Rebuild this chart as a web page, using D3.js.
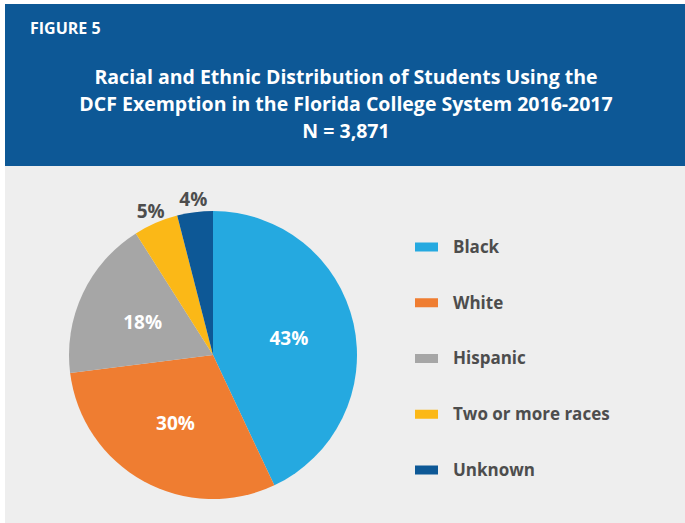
<!DOCTYPE html>
<html>
<head>
<meta charset="utf-8">
<script src="https://cdn.jsdelivr.net/npm/d3@7"></script>
<style>
  body { margin: 0; background: #fff; }
  text { font-family: "Open Sans", Lato, sans-serif; }
</style>
</head>
<body>
<div id="chart"></div>
<script>
// data
const categories = ["Black", "White", "Hispanic", "Two or more races", "Unknown"];
const shares = [43, 30, 18, 5, 4];
const colors = ["#25a9e0", "#ef7d31", "#a6a6a6", "#fbb817", "#0d5896"];
const titleLines = [
    "Racial and Ethnic Distribution of Students Using the",
    "DCF Exemption in the Florida College System 2016-2017",
    "N = 3,871"
];

const W = 685, H = 523;

const svg = d3.select("#chart").append("svg")
    .attr("width", W)
    .attr("height", H);

// header band
svg.append("rect")
    .attr("x", 5).attr("y", 4)
    .attr("width", W - 5).attr("height", 162)
    .attr("fill", "#0d5896");

// grey panel
svg.append("rect")
    .attr("x", 5).attr("y", 166)
    .attr("width", W - 5).attr("height", H - 166)
    .attr("fill", "#eeeeee");

svg.append("text")
    .attr("x", 30).attr("y", 34)
    .attr("fill", "#fff")
    .attr("font-family", "Lato, sans-serif")
    .attr("font-size", 16)
    .attr("font-weight", 700)
    .text("FIGURE 5");

svg.selectAll(".title")
    .data(titleLines)
    .enter()
  .append("text")
    .attr("class", "title")
    .attr("x", 346)
    .attr("y", (d, i) => 84 + i * 27)
    .attr("text-anchor", "middle")
    .attr("fill", "#fff")
    .attr("font-size", 19.5)
    .attr("font-weight", 700)
    .text(d => d);

// pie
const cx = 213, cy = 355, r = 144;
const data = categories.map((c, i) => ({ name: c, value: shares[i], color: colors[i] }));

const pie = d3.pie().value(d => d.value).sort(null);
const arc = d3.arc().innerRadius(0).outerRadius(r);
const arcs = pie(data);

const g = svg.append("g").attr("transform", `translate(${cx}, ${cy})`);

g.selectAll("path")
    .data(arcs)
    .enter()
  .append("path")
    .attr("d", arc)
    .attr("fill", d => d.data.color);

// inside labels for big slices, outside for small ones
const inner = d3.arc().innerRadius(r * 0.54).outerRadius(r * 0.54);
const outer = d3.arc().innerRadius(r * 1.09).outerRadius(r * 1.09);

g.selectAll(".lbl")
    .data(arcs)
    .enter()
  .append("text")
    .attr("class", "lbl")
    .attr("transform", d => `translate(${(d.data.value > 10 ? inner : outer).centroid(d)})`)
    .attr("text-anchor", "middle")
    .attr("dy", "0.35em")
    .attr("fill", d => d.data.value > 10 ? "#fff" : "#4d4d4d")
    .attr("font-size", 19)
    .attr("font-weight", 700)
    .text(d => d.data.value + "%");

// legend
const legendY = d3.scalePoint()
    .domain(categories)
    .range([247, 470]);

const legend = svg.selectAll(".legend")
    .data(data)
    .enter()
  .append("g")
    .attr("class", "legend")
    .attr("transform", d => `translate(415, ${legendY(d.name)})`);

legend.append("rect")
    .attr("x", 0).attr("y", -4.5)
    .attr("width", 23).attr("height", 9)
    .attr("fill", d => d.color);

legend.append("text")
    .attr("x", 38)
    .attr("dy", "0.35em")
    .attr("fill", "#4d4d4d")
    .attr("font-size", 17)
    .attr("font-weight", 700)
    .text(d => d.name);
</script>
</body>
</html>
